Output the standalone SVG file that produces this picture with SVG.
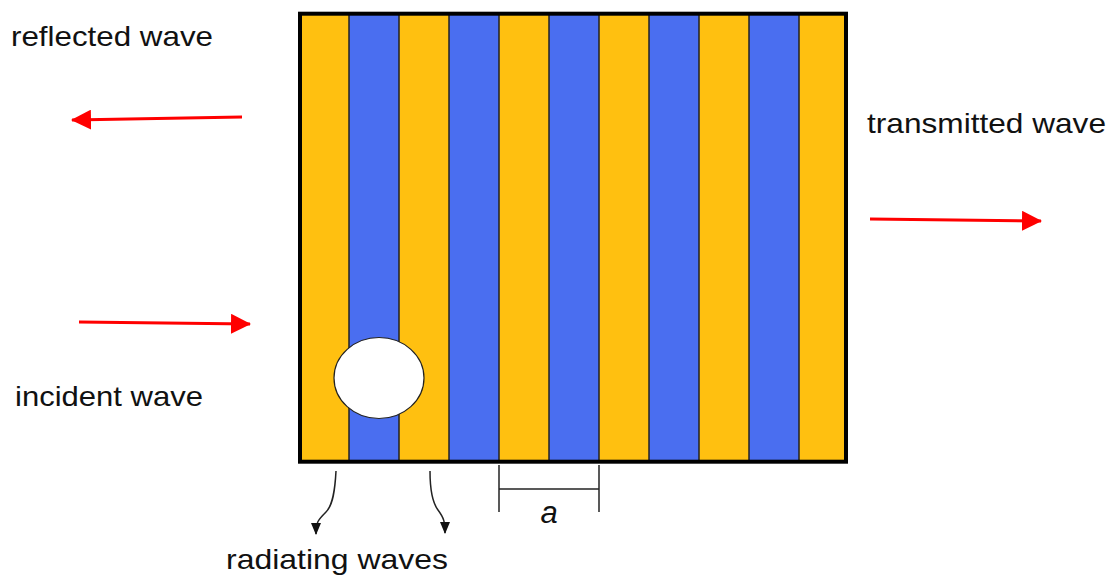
<svg xmlns="http://www.w3.org/2000/svg" width="1117" height="577" viewBox="0 0 1117 577">
<style>
.lbl{font-family:"Liberation Sans",Arial,sans-serif;font-size:28px;fill:#111}
.y{fill:#FFC010}
.b{fill:#4A6EF0}
.sep{stroke:#222;stroke-width:1.5}
.red{stroke:#FF0000;stroke-width:3;fill:none}
.blk{stroke:#222;stroke-width:1.5;fill:none}
</style>
<defs>
<marker id="rh" markerWidth="20" markerHeight="20" refX="19" refY="10" orient="auto" markerUnits="userSpaceOnUse">
<path d="M0,0 L20,10 L0,20 Z" fill="#FF0000"/>
</marker>
<marker id="bh" markerWidth="10" markerHeight="12" refX="5" refY="11" orient="0" markerUnits="userSpaceOnUse">
<path d="M0,0 L10,0 L5,12 Z" fill="#111"/>
</marker>
</defs>
<g id="slab">
<rect class="y" x="300" y="14" width="546" height="447"/>
<rect class="b" x="349" y="14" width="50" height="447"/>
<rect class="b" x="449" y="14" width="50" height="447"/>
<rect class="b" x="549" y="14" width="50" height="447"/>
<rect class="b" x="649" y="14" width="50" height="447"/>
<rect class="b" x="749" y="14" width="50" height="447"/>
<g class="sep">
<line x1="349" y1="14" x2="349" y2="461"/>
<line x1="399" y1="14" x2="399" y2="461"/>
<line x1="449" y1="14" x2="449" y2="461"/>
<line x1="499" y1="14" x2="499" y2="461"/>
<line x1="549" y1="14" x2="549" y2="461"/>
<line x1="599" y1="14" x2="599" y2="461"/>
<line x1="649" y1="14" x2="649" y2="461"/>
<line x1="699" y1="14" x2="699" y2="461"/>
<line x1="749" y1="14" x2="749" y2="461"/>
<line x1="799" y1="14" x2="799" y2="461"/>
</g>
<rect x="300" y="13.7" width="546" height="448" fill="none" stroke="#000" stroke-width="4"/>
</g>
<g id="hole">
<ellipse cx="379" cy="378" rx="45" ry="40.5" fill="#fff" stroke="#222" stroke-width="1.2"/>
</g>
<g id="connectors">
<path class="red" d="M242,117 L72,120" marker-end="url(#rh)"/>
<path class="red" d="M79,322 L250,324" marker-end="url(#rh)"/>
<path class="red" d="M870,219 L1041,221" marker-end="url(#rh)"/>
<path class="blk" d="M336,471 C335,490 333,505 326,512 C318,520 316,522 316,534" marker-end="url(#bh)"/>
<path class="blk" d="M430,471 C430,488 432,502 438,510 C444,518 445,522 445,533" marker-end="url(#bh)"/>
</g>
<g id="scale">
<line class="sep" x1="499" y1="465" x2="499" y2="512"/>
<line class="sep" x1="599" y1="465" x2="599" y2="512"/>
<line class="sep" x1="499" y1="489" x2="599" y2="489"/>
<text x="549" y="523" text-anchor="middle" style="font-family:'Liberation Sans',Arial,sans-serif;font-size:31px;font-style:italic;fill:#111">a</text>
</g>
<g id="labels">
<text class="lbl" x="11" y="46" textLength="202" lengthAdjust="spacingAndGlyphs">reflected wave</text>
<text class="lbl" x="15" y="406" textLength="188" lengthAdjust="spacingAndGlyphs">incident wave</text>
<text class="lbl" x="867" y="133" textLength="239" lengthAdjust="spacingAndGlyphs">transmitted wave</text>
<text class="lbl" x="226" y="569" textLength="222" lengthAdjust="spacingAndGlyphs">radiating waves</text>
</g>
</svg>
